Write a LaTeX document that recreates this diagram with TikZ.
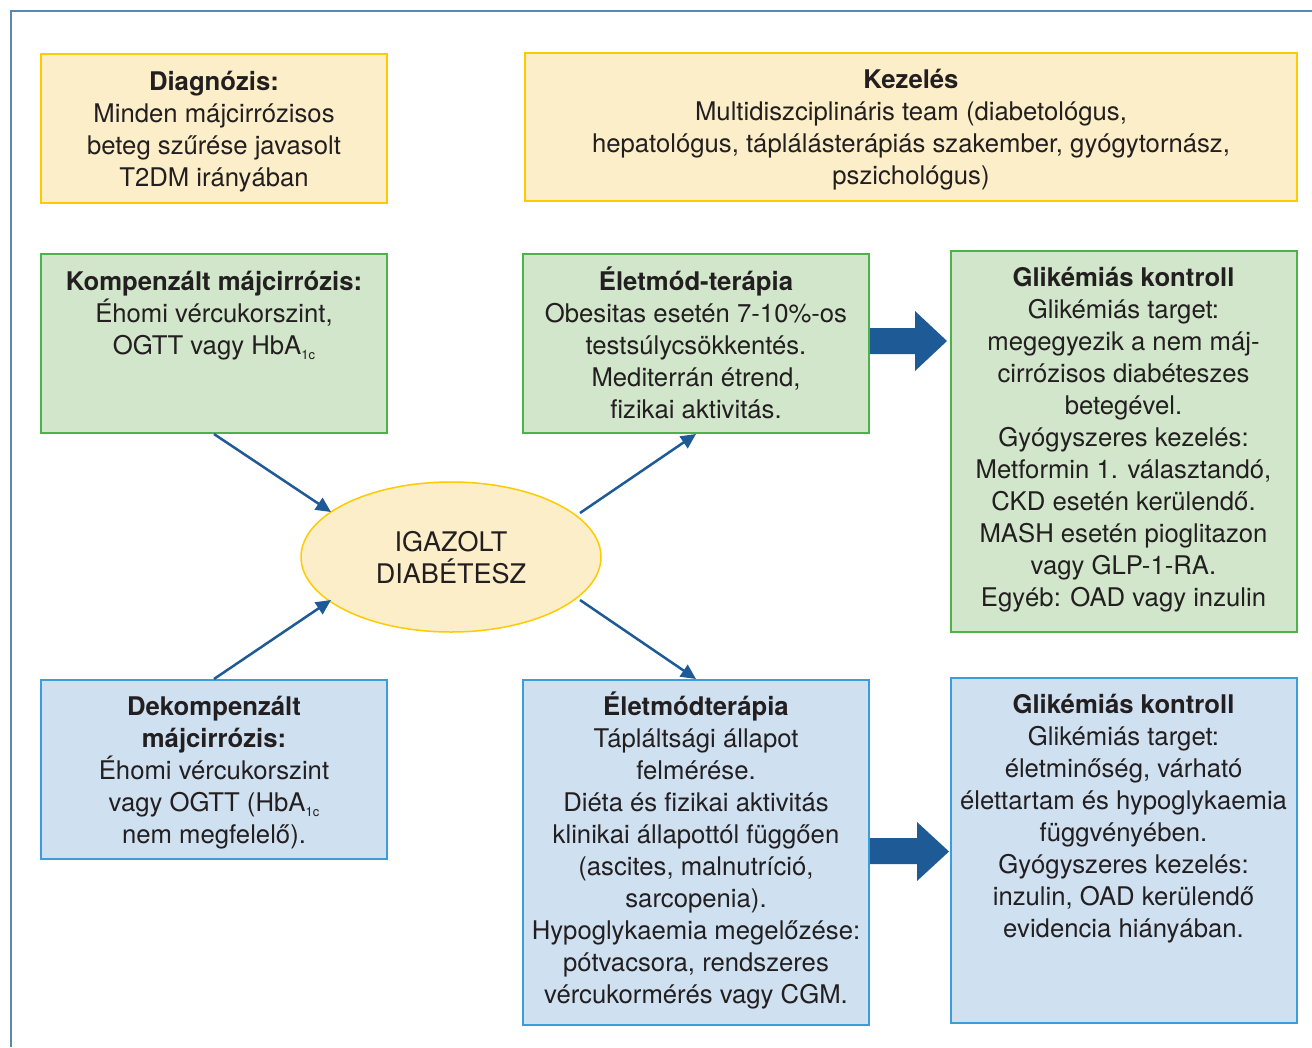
\documentclass[tikz,border=0pt]{standalone}
\usepackage{fontspec}
\setmainfont{TeX Gyre Heros}
\usetikzlibrary{arrows.meta,shapes.geometric}
\definecolor{txt}{HTML}{231F20}
\definecolor{yfill}{HTML}{FCEEC8}
\definecolor{ydraw}{HTML}{FECB00}
\definecolor{gfill}{HTML}{D1E6CA}
\definecolor{gdraw}{HTML}{4DB24A}
\definecolor{bfill}{HTML}{CFE0F0}
\definecolor{bdraw}{HTML}{3A9FD9}
\definecolor{arr}{HTML}{1D5A96}
\definecolor{frame}{HTML}{5B88B3}
\newcommand{\sub}[1]{\raisebox{-5pt}{\fontsize{13}{13}\selectfont #1}}
\begin{document}
\begin{tikzpicture}[x=1pt,y=-1pt,
  box/.style={draw, line width=2pt, minimum width=#1, inner sep=0pt},
  ybox/.style={box=346, fill=yfill, draw=ydraw},
  gbox/.style={box=346, fill=gfill, draw=gdraw},
  bbox/.style={box=346, fill=bfill, draw=bdraw},
  txtnode/.style={align=center, inner sep=0pt, text=txt, font=\fontsize{25.7}{32}\selectfont},
  conn/.style={draw=arr, line width=2.5pt, -{Triangle[length=15pt,width=14pt]}},
  blockarrow/.style={fill=arr}
]
\useasboundingbox (0,0) rectangle (1312,1047);
\fill[white] (0,0) rectangle (1312,1047);
\draw[frame, line width=2pt] (11,1047) -- (11,11) -- (1312,11);

% boxes
\node[ybox, minimum height=149] (diag) at (214,128.5) {};
\node[ybox, minimum width=772, minimum height=148] (kez) at (911,127) {};
\node[gbox, minimum height=179] (komp) at (214,343.5) {};
\node[gbox, minimum height=179] (elet) at (696,343.5) {};
\node[gbox, minimum height=381] (glik1) at (1123.5,441.5) {};
\node[bbox, minimum height=179] (dekomp) at (214,769.5) {};
\node[bbox, minimum height=345] (elet2) at (696,852.5) {};
\node[bbox, minimum height=345] (glik2) at (1123.5,850.5) {};
\node[ellipse, draw=ydraw, line width=1.5pt, fill=yfill, minimum width=300, minimum height=150, inner sep=0pt] (ell) at (451,557) {};

% texts
\node[txtnode] (t-diag) at (214,132) {\textbf{Diagnózis:}\\Minden májcirrózisos\\beteg szűrése javasolt\\T2DM irányában};
\node[txtnode] (t-kez) at (911,130) {\textbf{Kezelés}\\Multidiszciplináris team (diabetológus,\\hepatológus, táplálásterápiás szakember, gyógytornász,\\pszichológus)};
\node[txtnode] (t-komp) at (214,316) {\textbf{Kompenzált májcirrózis:}\\Éhomi vércukorszint,\\OGTT vagy HbA\sub{1c}};
\node[txtnode] (t-elet) at (696,343) {\textbf{Életmód-terápia}\\Obesitas esetén 7-10\%-os\\testsúlycsökkentés.\\Mediterrán étrend,\\fizikai aktivitás.};
\node[txtnode] (t-glik1) at (1123.5,440) {\textbf{Glikémiás kontroll}\\Glikémiás target:\\megegyezik a nem máj-\\cirrózisos diabéteszes\\betegével.\\Gyógyszeres kezelés:\\Metformin 1. választandó,\\CKD esetén kerülendő.\\MASH esetén pioglitazon\\vagy GLP-1-RA.\\Egyéb: OAD vagy inzulin};
\node[txtnode, font=\fontsize{27}{32}\selectfont] (t-ell) at (451,557.5) {IGAZOLT\\DIABÉTESZ};
\node[txtnode] (t-dekomp) at (214,773) {\textbf{Dekompenzált}\\\textbf{májcirrózis:}\\Éhomi vércukorszint\\vagy OGTT (HbA\sub{1c}\\nem megfelelő).};
\node[txtnode] (t-elet2) at (696,850) {\textbf{Életmódterápia}\\Tápláltsági állapot\\felmérése.\\Diéta és fizikai aktivitás\\klinikai állapottól függően\\(ascites, malnutríció,\\sarcopenia).\\Hypoglykaemia megelőzése:\\pótvacsora, rendszeres\\vércukormérés vagy CGM.};
\node[txtnode] (t-glik2) at (1123.5,819) {\textbf{Glikémiás kontroll}\\Glikémiás target:\\életminőség, várható\\élettartam és hypoglykaemia\\függvényében.\\Gyógyszeres kezelés:\\inzulin, OAD kerülendő\\evidencia hiányában.};

% connector end points
\coordinate (e-in1) at (331,512);
\coordinate (e-in2) at (331,600);
\coordinate (e-out1) at (580,513);
\coordinate (e-out2) at (580,600);

\draw[conn] (komp.south) -- (e-in1);
\draw[conn] (dekomp.north) -- (e-in2);
\draw[conn] (e-out1) -- (elet.south);
\draw[conn] (e-out2) -- (elet2.north);

% block arrows
\fill[blockarrow] (870,328) -- (915,328) -- (915,311) -- (947,341) -- (915,371) -- (915,354) -- (870,354) -- cycle;
\fill[blockarrow] (870,838) -- (917,838) -- (917,822) -- (949,851.5) -- (917,881) -- (917,864) -- (870,864) -- cycle;
\end{tikzpicture}
\end{document}
